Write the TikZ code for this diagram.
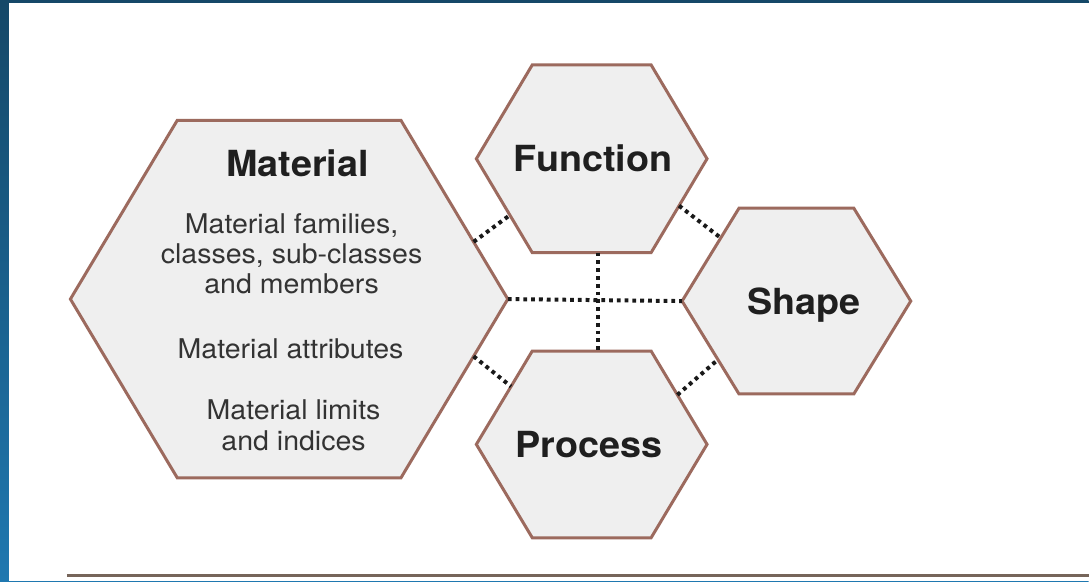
\documentclass[tikz,border=0pt]{standalone}
\usepackage{fontspec}
\setmainfont{TeX Gyre Heros}[FakeStretch = 1.05]
\usetikzlibrary{calc}
\definecolor{hexline}{HTML}{9C6A5E}
\definecolor{hexfill}{HTML}{EFEFEF}
\definecolor{ruleline}{HTML}{76655A}
\definecolor{frametop}{HTML}{154868}
\definecolor{framebot}{HTML}{1F78B0}

\begin{document}
\begin{tikzpicture}[x = 0.5pt, y = -0.5pt,
    hexcell/.style = {draw = hexline, line width = 1.5pt, fill = hexfill},
    link/.style = {draw = black!90, line width = 2pt, dash pattern = on 1.9pt off 2pt},
    title/.style = {font = \bfseries\fontsize{18}{20}\selectfont, text = black!88, inner sep = 0pt},
    body/.style = {font = \fontsize{13.6}{15.2}\selectfont, text = black!80, align = center, inner sep = 0pt}]
    % frame
    \path[top color = frametop, bottom color = framebot](0,0)rectangle(1090,582);
    \path[fill = white](9,3)rectangle(1090,582);
    % hexagons: name/centre x/centre y/half width/half top edge/half height
    \foreach \n/\cx/\cy/\hw/\tw/\hh in {mat/289.5/299.5/219/112/179, fun/592.5/159/115.5/59.5/94, pro/592.5/445/115.5/59.5/93.5, shp/797.5/301.5/114.5/57.5/93}{
        \coordinate(\n-e)at(\cx+\hw,\cy);
        \coordinate(\n-ne)at(\cx+\tw,\cy-\hh);
        \coordinate(\n-nw)at(\cx-\tw,\cy-\hh);
        \coordinate(\n-w)at(\cx-\hw,\cy);
        \coordinate(\n-sw)at(\cx-\tw,\cy+\hh);
        \coordinate(\n-se)at(\cx+\tw,\cy+\hh);
        \path[hexcell](\n-e)--(\n-ne)--(\n-nw)--(\n-w)--(\n-sw)--(\n-se)--cycle;
    }
    % link ends on the edges
    \coordinate(matFun)at($(mat-ne)!0.68!(mat-e)$);
    \coordinate(funMat)at($(fun-w)!0.6!(fun-sw)$);
    \coordinate(funShp)at($(fun-e)!0.5!(fun-se)$);
    \coordinate(shpFun)at($(shp-nw)!0.32!(shp-w)$);
    \coordinate(matPro)at($(mat-e)!0.32!(mat-se)$);
    \coordinate(proMat)at($(pro-w)!0.62!(pro-nw)$);
    \coordinate(proShp)at($(pro-ne)!0.47!(pro-e)$);
    \coordinate(shpPro)at($(shp-w)!0.63!(shp-sw)$);
    \coordinate(funPro)at($(fun-sw)!0.55!(fun-se)$);
    \coordinate(proFun)at($(pro-nw)!0.55!(pro-ne)$);
    % dotted links
    \path[link](mat-e)to(shp-w);
    \path[link](funPro)to(proFun);
    \path[link](matFun)to(funMat);
    \path[link](funShp)to(shpFun);
    \path[link](matPro)to(proMat);
    \path[link](proShp)to(shpPro);
    % titles
    \node[title, anchor = base](matT)at(298,177){Material};
    \node[title, anchor = base](funT)at(594,172){Function};
    \node[title, anchor = base](proT)at(590,458){Process};
    \node[title, anchor = base](shpT)at(805,315){Shape};
    % material contents
    \node[body](matA)at(292,254){Material families,\\classes, sub-classes\\and members};
    \node[body, anchor = base](matB)at(291,359){Material attributes};
    \node[body](matC)at(294,426){Material limits\\and indices};
    % rule at the foot
    \path[draw = ruleline, line width = 1.5pt](67,576)to(1090,576);
\end{tikzpicture}
\end{document}
